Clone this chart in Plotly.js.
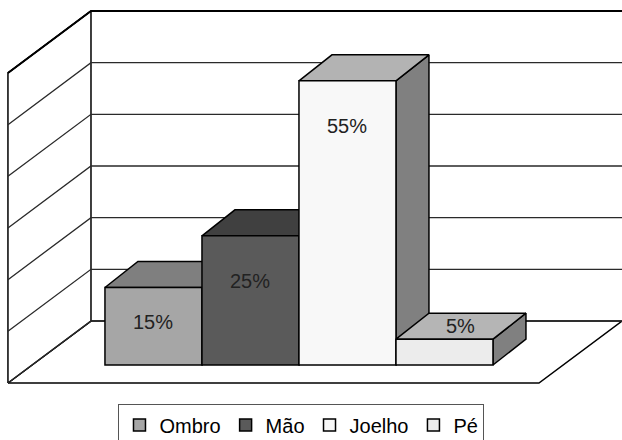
<!DOCTYPE html>
<html><head><meta charset="utf-8">
<script src="https://cdn.plot.ly/plotly-3.0.1.min.js"></script>
<style>html,body{margin:0;padding:0;background:#fff}</style>
</head><body><div id="chart" style="width:622px;height:440px"></div>
<script>
// ---- data ----
const categories = ['Ombro', 'Mão', 'Joelho', 'Pé'];
const values = [15, 25, 55, 5];
const valueLabels = ['15%', '25%', '55%', '5%'];
const gridTicks = [0, 10, 20, 30, 40, 50, 60];

// ---- styles ----
const frontColors = ['#a6a6a6', '#5a5a5a', '#f8f8f8', '#ececec'];
const topColors = ['#7f7f7f', '#404040', '#b3b3b3', '#b5b5b5'];
const sideColors = ['#6a6a6a', '#333333', '#808080', '#808080'];
const FONT = 'Liberation Sans, Arial, sans-serif';

// ---- 3D geometry (in axis units) ----
const X_RANGE = [-1.582, 4.83], Y_RANGE = [-13.354, 62.126];
const WALL_X0 = -1.5, WALL_XR = 4.83, WALL_DX = 0.856, WALL_DY = 12;
const BAR_BASE = -8.52, BAR_DX = 0.34, BAR_DY = 5.03, BAR_W = 1;
const yTop = gridTicks[gridTicks.length - 1];
const xs = categories.map((c, i) => i);

const traces = [];
const edge = {color: '#000', width: 1.5};

// floor
traces.push({type: 'scatter', mode: 'lines', fill: 'toself', fillcolor: '#fff', line: edge,
  x: [WALL_X0, WALL_X0 + WALL_DX, WALL_XR, WALL_XR - WALL_DX, WALL_X0],
  y: [-WALL_DY, 0, 0, -WALL_DY, -WALL_DY], showlegend: false, hoverinfo: 'skip'});
// left wall
traces.push({type: 'scatter', mode: 'lines', fill: 'toself', fillcolor: '#fff', line: edge,
  x: [WALL_X0, WALL_X0, WALL_X0 + WALL_DX, WALL_X0 + WALL_DX, WALL_X0],
  y: [-WALL_DY, yTop - WALL_DY, yTop, 0, -WALL_DY], showlegend: false, hoverinfo: 'skip'});
// gridlines on walls
const gx = [], gy = [];
gridTicks.forEach(t => {
  gx.push(WALL_X0, WALL_X0 + WALL_DX, WALL_XR, null);
  gy.push(t - WALL_DY, t, t, null);
});
traces.push({type: 'scatter', mode: 'lines', x: gx, y: gy, line: {color: '#2a2a2a', width: 1.3},
  showlegend: false, hoverinfo: 'skip', connectgaps: false});
// top edge of back wall (thicker)
traces.push({type: 'scatter', mode: 'lines', x: [WALL_X0, WALL_X0 + WALL_DX, WALL_XR], y: [yTop - WALL_DY, yTop, yTop],
  line: {color: '#000', width: 2}, showlegend: false, hoverinfo: 'skip'});

// side and top faces of each bar
xs.forEach((xc, i) => {
  const x0 = xc - BAR_W / 2, x1 = xc + BAR_W / 2;
  const top = BAR_BASE + values[i];
  traces.push({type: 'scatter', mode: 'lines', fill: 'toself', fillcolor: sideColors[i], line: edge,
    x: [x1, x1, x1 + BAR_DX, x1 + BAR_DX, x1],
    y: [BAR_BASE, top, top + BAR_DY, BAR_BASE + BAR_DY, BAR_BASE], showlegend: false, hoverinfo: 'skip'});
  traces.push({type: 'scatter', mode: 'lines', fill: 'toself', fillcolor: topColors[i], line: edge,
    x: [x0, x1, x1 + BAR_DX, x0 + BAR_DX, x0],
    y: [top, top, top + BAR_DY, top + BAR_DY, top], showlegend: false, hoverinfo: 'skip'});
});

// front faces: real bars on an overlaying axis pair (drawn on top)
categories.forEach((c, i) => {
  traces.push({type: 'bar', name: c, x: [xs[i]], y: [values[i]], base: BAR_BASE, width: BAR_W,
    xaxis: 'x2', yaxis: 'y2',
    marker: {color: frontColors[i], line: edge}, hoverinfo: 'skip'});
});

// value labels
const annotations = values.map((v, i) => {
  const top = BAR_BASE + v;
  const onTop = v < 10;
  return {
    x: onTop ? xs[i] + BAR_DX / 2 : xs[i],
    y: onTop ? top + BAR_DY / 2 : top - Math.min(8.8, v * 0.45),
    xref: 'x', yref: 'y', text: valueLabels[i], showarrow: false,
    font: {family: FONT, size: 20, color: '#222'}
  };
});

const axisCommon = {showgrid: false, zeroline: false, showticklabels: false, showline: false, ticks: '', fixedrange: true};
const layout = {
  width: 622, height: 440,
  margin: {l: 0, r: 0, t: 0, b: 50, pad: 0, autoexpand: false},
  paper_bgcolor: '#fff', plot_bgcolor: '#fff',
  barmode: 'overlay',
  showlegend: true,
  xaxis: Object.assign({range: X_RANGE}, axisCommon),
  yaxis: Object.assign({range: Y_RANGE}, axisCommon),
  xaxis2: Object.assign({range: X_RANGE, overlaying: 'x'}, axisCommon),
  yaxis2: Object.assign({range: Y_RANGE, overlaying: 'y'}, axisCommon),
  legend: {orientation: 'h', x: 0.4847, xanchor: 'center', y: -0.037, yanchor: 'top',
    bordercolor: '#555', borderwidth: 1, bgcolor: '#fff',
    font: {family: FONT, size: 20, color: '#000'}, traceorder: 'normal'},
  annotations: annotations,
  hovermode: false
};
Plotly.newPlot('chart', traces, layout, {staticPlot: true, displayModeBar: false});
</script></body></html>
